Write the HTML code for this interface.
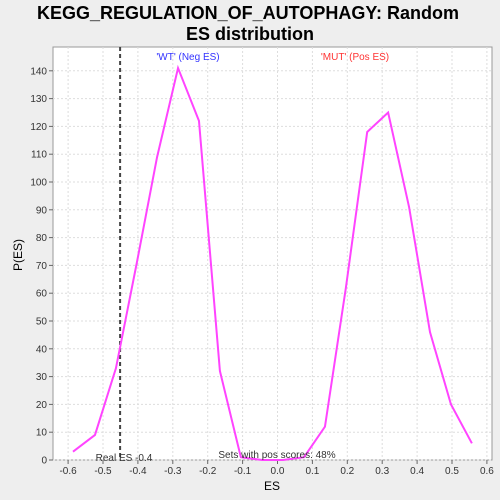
<!DOCTYPE html>
<html><head><meta charset="utf-8"><style>
body{margin:0;background:#eeeeee;font-family:"Liberation Sans",sans-serif;}
svg{display:block}
</style></head><body>
<svg width="500" height="500" xmlns="http://www.w3.org/2000/svg">
<rect width="500" height="500" fill="#eeeeee"/>
<text x="248" y="19" text-anchor="middle" font-size="18" font-weight="bold" fill="#000">KEGG_REGULATION_OF_AUTOPHAGY: Random</text>
<text x="250" y="40" text-anchor="middle" font-size="18" font-weight="bold" fill="#000">ES distribution</text>
<rect x="53" y="47" width="439" height="413" fill="#fff" stroke="#999"/>
<g id="grid"></g><g id="axes"></g><g id="series"></g>
<text x="188" y="60" text-anchor="middle" font-size="10" fill="#3333ff">'WT' (Neg ES)</text>
<text x="355" y="60" text-anchor="middle" font-size="10" fill="#ff3333">'MUT' (Pos ES)</text>
<text x="277" y="458" text-anchor="middle" font-size="10" fill="#333">Sets with pos scores: 48%</text>
<text x="124" y="461" text-anchor="middle" font-size="10" fill="#333">Real ES -0.4</text>
<text x="272" y="490" text-anchor="middle" font-size="12" fill="#000">ES</text>
<text x="22" y="255" text-anchor="middle" font-size="12" fill="#000" transform="rotate(-90 22 255)">P(ES)</text>
</svg>
<script>
const xTicks=[-0.6,-0.5,-0.4,-0.3,-0.2,-0.1,0.0,0.1,0.2,0.3,0.4,0.5,0.6];
const xTickLabels=["-0.6","-0.5","-0.4","-0.3","-0.2","-0.1","0.0","0.1","0.2","0.3","0.4","0.5","0.6"];
const yTicks=[0,10,20,30,40,50,60,70,80,90,100,110,120,130,140];
const esValues=[-0.586,-0.523,-0.463,-0.403,-0.345,-0.285,-0.225,-0.165,-0.105,-0.044,0.016,0.076,0.136,0.196,0.257,0.317,0.377,0.437,0.497,0.557];
const densityValues=[3,9,33,71,109,141,122,32,1,0,0,1,12,62,118,125,91,46,20,6];
const realES=-0.451;
const NS="http://www.w3.org/2000/svg";
const X=v=>277.5+v*349, Y=v=>460-v*2.78;
function mk(t,a,p){const e=document.createElementNS(NS,t);for(const k in a)e.setAttribute(k,a[k]);document.getElementById(p).appendChild(e);return e;}
xTicks.forEach((v,i)=>{
 const g=mk('line',{x1:X(v),x2:X(v),y1:47,y2:460,stroke:'#ddd','stroke-dasharray':'2,2'},'grid');
 
 
 const t=mk('line',{x1:X(v),x2:X(v),y1:460,y2:464,stroke:'#666'},'axes');
 
 
 const l=mk('text',{x:X(v),y:474,'text-anchor':'middle','font-size':10,fill:'#333'},'axes');
 l.textContent=xTickLabels[i];
 
 
});
yTicks.forEach(v=>{
 const g=mk('line',{x1:53,x2:492,y1:Y(v),y2:Y(v),stroke:'#ddd','stroke-dasharray':'2,2'},'grid');
 
 
 const t=mk('line',{x1:49,x2:53,y1:Y(v),y2:Y(v),stroke:'#666'},'axes');
 
 
 const l=mk('text',{x:47,y:Y(v)+3.5,'text-anchor':'end','font-size':10,fill:'#333'},'axes');
 l.textContent=String(v);
 
 
});
const rl=mk('line',{x1:X(realES),x2:X(realES),y1:47,y2:460,stroke:'#444','stroke-width':2,'stroke-dasharray':'4,3'},'series');


const pts=esValues.map((v,i)=>X(v)+','+Y(densityValues[i])).join(' ');
const pl=mk('polyline',{points:pts,fill:'none',stroke:'#ff44ff','stroke-width':2},'series');


</script>
</body></html>
